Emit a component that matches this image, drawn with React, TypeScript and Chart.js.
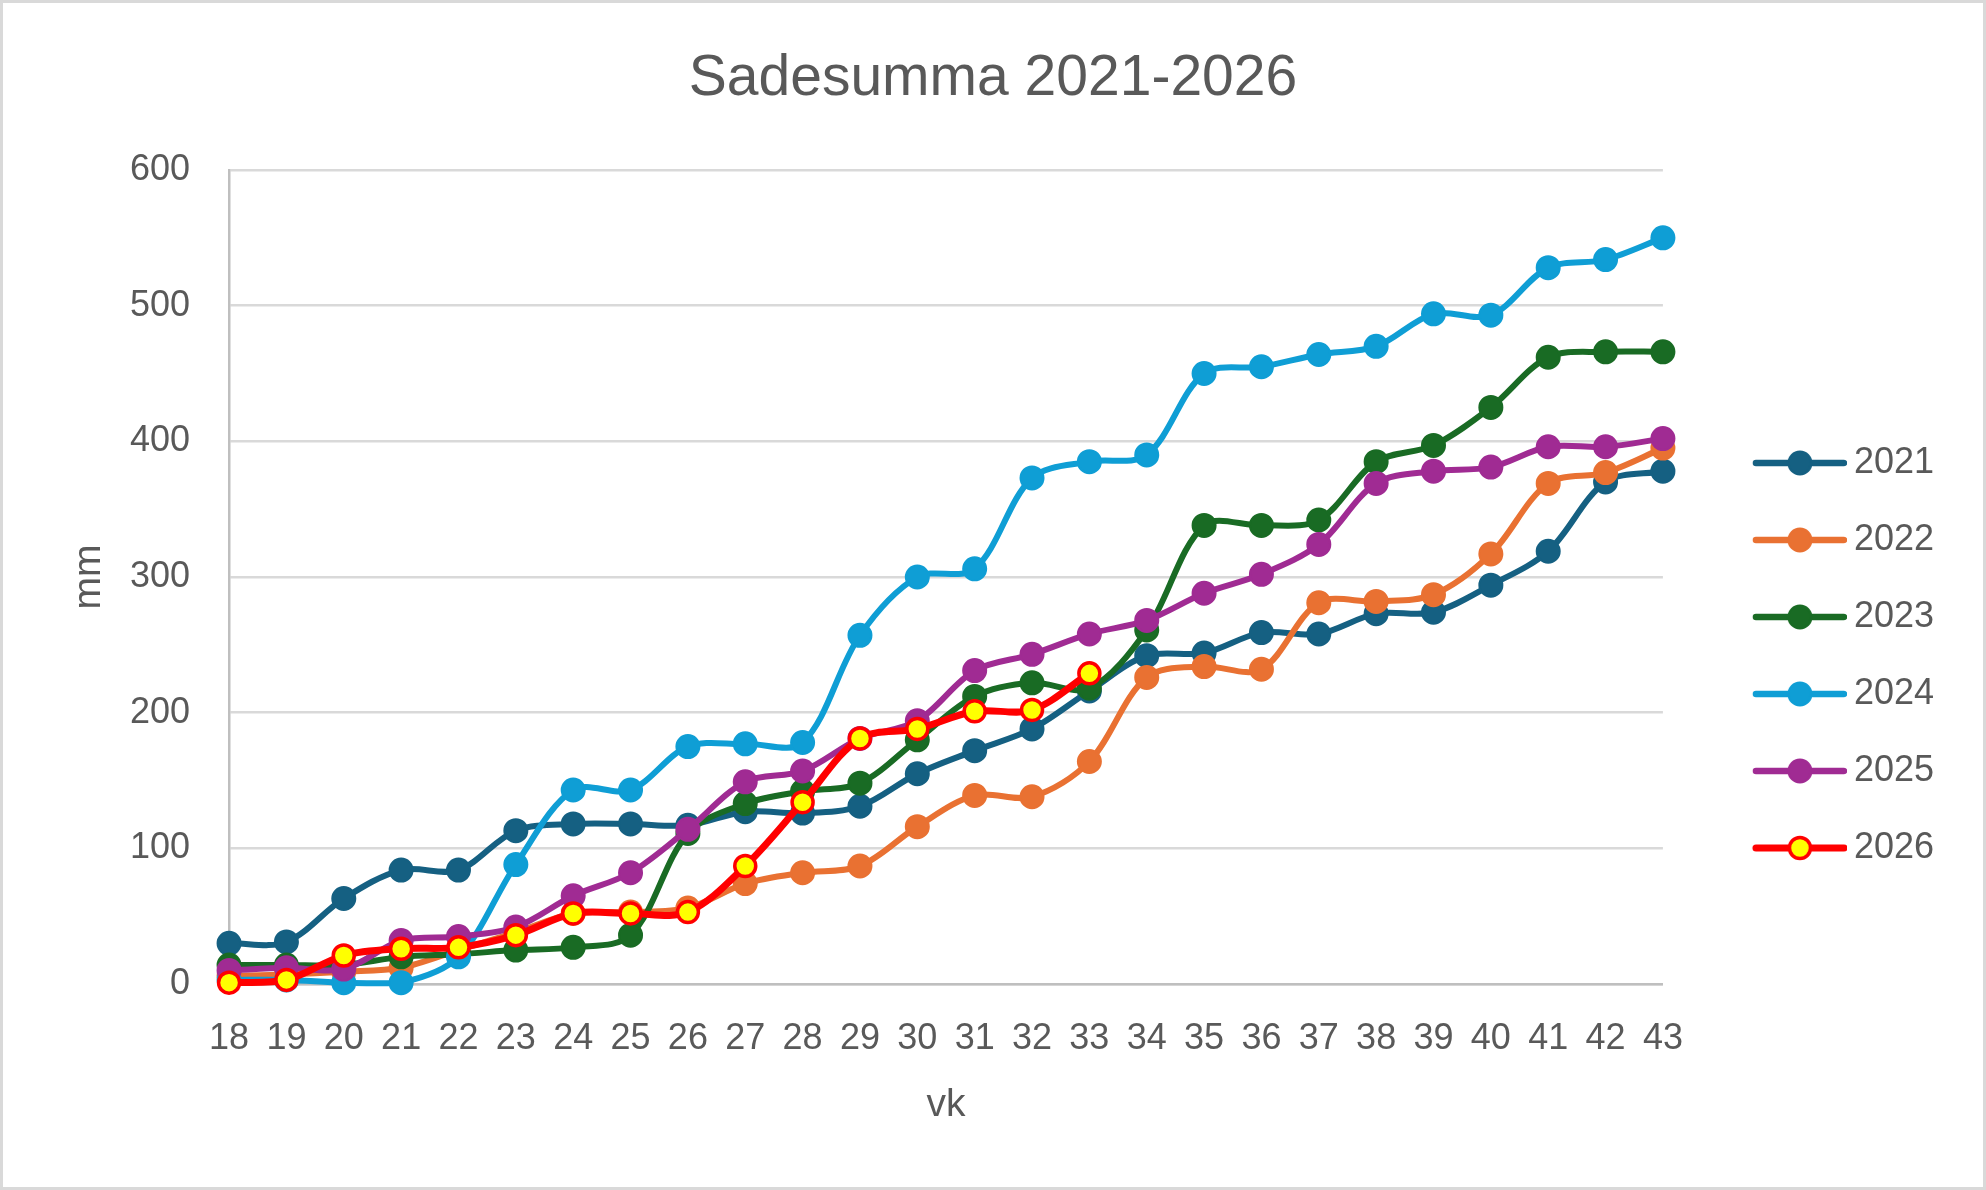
import React, { useEffect, useRef } from 'react';
import { Chart, registerables } from 'chart.js';

Chart.register(...registerables);

// ---- data ----
const weeks = ['18', '19', '20', '21', '22', '23', '24', '25', '26', '27', '28', '29', '30', '31', '32', '33', '34', '35', '36', '37', '38', '39', '40', '41', '42', '43'];
const seriesNames = ['2021', '2022', '2023', '2024', '2025', '2026'];
const y2021 = [30, 31, 63, 84, 84, 113, 118, 118, 117, 127, 126, 131, 155, 172, 188, 216, 242, 244, 259, 258, 273, 274, 294, 319, 370, 378];
const y2022 = [6, 7, 9, 12, 25, 38, 52, 53, 56, 74, 82, 87, 116, 139, 138, 164, 226, 234, 232, 281, 282, 287, 317, 369, 377, 395];
const y2023 = [14, 14, 14, 20, 22, 25, 27, 36, 111, 133, 142, 148, 180, 212, 222, 218, 261, 338, 338, 342, 385, 397, 425, 462, 466, 466];
const y2024 = [3, 3, 1, 1, 20, 88, 143, 143, 175, 177, 178, 257, 300, 306, 373, 385, 390, 450, 455, 464, 470, 494, 493, 528, 534, 550];
const y2025 = [10, 12, 11, 32, 35, 42, 65, 82, 114, 149, 157, 181, 194, 231, 243, 258, 268, 288, 302, 324, 369, 378, 381, 396, 396, 402];
const y2026 = [1, 3, 21, 26, 27, 36, 52, 52, 53, 87, 134, 181, 188, 201, 202, 229];
const seriesValues = [y2021, y2022, y2023, y2024, y2025, y2026];
const yMin = 0;
const yMax = 600;
const yStep = 100;
const chartTitle = 'Sadesumma 2021-2026';
const xTitle = 'vk';
const yTitle = 'mm';

// ---- styles ----
const lineColors = ['#156082', '#E97132', '#196B24', '#0F9ED5', '#A02B93', '#FF0000'];
const markerFills = ['#156082', '#E97132', '#196B24', '#0F9ED5', '#A02B93', '#FFFF00'];
const textColor = '#595959';

function makeLegendIcon(line: string, fill: string, border: string, lineW: number, radius: number, borderW: number) {
  const c = document.createElement('canvas');
  c.width = 154;
  c.height = 34;
  const ctx = c.getContext('2d')!;
  ctx.strokeStyle = line;
  ctx.lineWidth = lineW;
  ctx.lineCap = 'round';
  ctx.beginPath();
  ctx.moveTo(63, 17);
  ctx.lineTo(151, 17);
  ctx.stroke();
  ctx.beginPath();
  ctx.arc(107, 17, radius, 0, Math.PI * 2);
  ctx.fillStyle = fill;
  ctx.fill();
  ctx.lineWidth = borderW;
  ctx.strokeStyle = border;
  ctx.stroke();
  return c;
}

export default function App() {
  const ref = useRef<HTMLCanvasElement | null>(null);

  useEffect(() => {
    if (!ref.current) return;
    Chart.defaults.font.family = "'Liberation Sans', Arial, sans-serif";
    Chart.defaults.color = textColor;

    const icons = seriesNames.map((_, i) =>
      i === 5
        ? makeLegendIcon(lineColors[i], markerFills[i], lineColors[i], 7, 10.5, 3.5)
        : makeLegendIcon(lineColors[i], markerFills[i], lineColors[i], 6.5, 11.5, 2)
    );

    const datasets = seriesNames.map((name, i) => ({
      label: name,
      data: seriesValues[i],
      borderColor: lineColors[i],
      backgroundColor: markerFills[i],
      borderWidth: i === 5 ? 7 : 6,
      pointRadius: i === 5 ? 10.5 : 11.5,
      pointBorderWidth: i === 5 ? 3.5 : 2,
      pointBackgroundColor: markerFills[i],
      pointBorderColor: lineColors[i],
      tension: 0.33,
      fill: false,
      clip: false as any,
      order: seriesNames.length - i,
    }));

    const chart = new Chart(ref.current, {
      type: 'line',
      data: { labels: weeks, datasets },
      options: {
        responsive: false,
        animation: false,
        devicePixelRatio: 1,
        events: [],
        layout: { padding: { left: 42, right: 42, top: 0, bottom: 0 } },
        plugins: {
          title: {
            display: true,
            text: chartTitle,
            color: textColor,
            font: { size: 57, weight: 'normal', lineHeight: 1.2 },
            padding: { top: 45, bottom: 56.6 },
          },
          legend: {
            position: 'right',
            fullSize: false,
            align: 'center',
            title: {
              display: true,
              text: ' ',
              font: { size: 10, lineHeight: 1 },
              padding: { top: 147, bottom: 0 },
            },
            labels: {
              usePointStyle: true,
              pointStyleWidth: 132,
              padding: 41,
              color: textColor,
              font: { size: 36 },
              generateLabels: (c: any) => {
                const items = (Chart.defaults.plugins.legend.labels as any).generateLabels(c);
                items.forEach((it: any) => {
                  it.pointStyle = icons[it.datasetIndex];
                  it.fontColor = textColor;
                });
                return items.sort((a: any, b: any) => a.datasetIndex - b.datasetIndex);
              },
            },
          },
          tooltip: { enabled: false },
        },
        scales: {
          x: {
            type: 'category',
            offset: false,
            grid: {
              display: true,
              drawOnChartArea: false,
              drawTicks: true,
              tickLength: 33.4,
              tickColor: 'rgba(0,0,0,0)',
            },
            border: { display: true, color: '#bfbfbf', width: 2.5 },
            ticks: {
              padding: 0,
              color: textColor,
              font: { size: 36 },
              maxRotation: 0,
              autoSkip: false,
            },
            title: {
              display: true,
              text: xTitle,
              color: textColor,
              font: { size: 39 },
              padding: { top: 21, bottom: 61.6 },
            },
          },
          y: {
            min: yMin,
            max: yMax,
            ticks: {
              stepSize: yStep,
              padding: 0,
              color: textColor,
              font: { size: 36 },
            },
            grid: {
              color: '#d9d9d9',
              lineWidth: 2.5,
              drawTicks: true,
              tickLength: 39,
              tickColor: 'rgba(0,0,0,0)',
            },
            border: { display: true, color: '#bfbfbf', width: 2.5 },
            title: {
              display: true,
              text: yTitle,
              color: textColor,
              font: { size: 39 },
              padding: { top: 23.6, bottom: 17.6 },
            },
          },
        },
      } as any,
    });

    return () => chart.destroy();
  }, []);

  return (
    <div style={{ position: 'fixed', left: 0, top: 0, width: 1986, height: 1190, background: '#fff' }}>
      <canvas ref={ref} width={1986} height={1190} style={{ display: 'block', width: 1986, height: 1190 }} />
      <div
        style={{
          position: 'absolute',
          left: 0,
          top: 0,
          width: 1986,
          height: 1190,
          border: '3px solid #d9d9d9',
          boxSizing: 'border-box',
          pointerEvents: 'none',
        }}
      />
    </div>
  );
}
